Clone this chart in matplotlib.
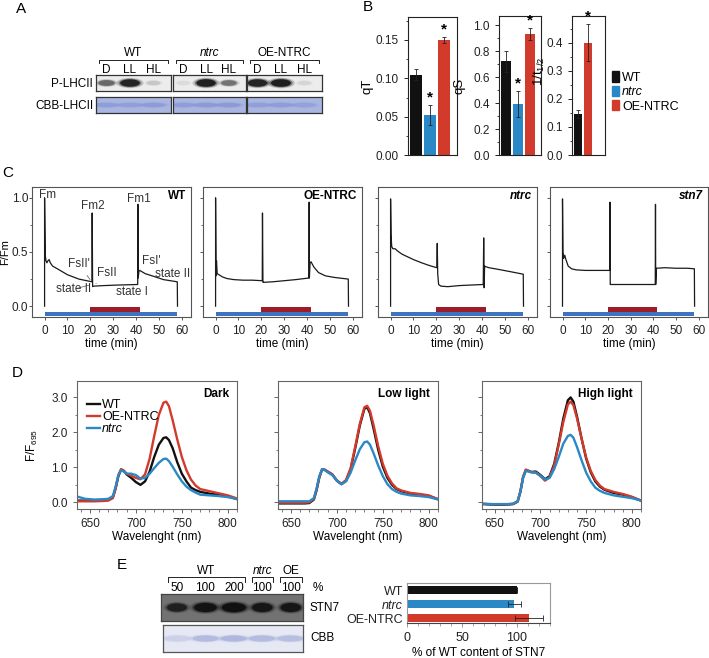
import matplotlib
matplotlib.use("Agg")
import matplotlib.pyplot as plt
from matplotlib.patches import Ellipse, Patch
from matplotlib.ticker import MultipleLocator

plt.rcParams["font.family"] = ["Liberation Sans", "DejaVu Sans"]
plt.rcParams["mathtext.default"] = "regular"
plt.rcParams["font.size"] = 8

BLACK = "#111111"
RED = "#d23a2c"
BLUE = "#2a88c6"
EDGE = "#555555"

# ---- data ----
# A: western blot band intensities (rows: WT, ntrc, OE-NTRC; lanes D, LL, HL)
a_groups = ["WT", "ntrc", "OE-NTRC"]
a_lanes = ["D", "LL", "HL"]
p_lhcii = [[0.5, 0.95, 0.12], [0.05, 1.0, 0.45], [0.95, 1.0, 0.07]]
cbb_lhcii = [[0.5, 0.45, 0.55], [0.5, 0.6, 0.6], [0.45, 0.5, 0.4]]

# B: state transition parameters
b_genotypes = ["WT", "ntrc", "OE-NTRC"]
qt_mean = [0.105, 0.052, 0.150]
qt_err = [0.007, 0.013, 0.004]
qs_mean = [0.72, 0.39, 0.93]
qs_err = [0.08, 0.10, 0.045]
rate_mean = [0.145, 0.40]
rate_err = [0.015, 0.065]

# C: chlorophyll fluorescence traces (time in min, F/Fm)
wt_t = [0, 0, 0.3, 0.6, 1.0, 1.5, 2.0, 2.5, 3.5, 6, 10, 15, 20.7, 20.8, 21.0,
        21.5, 26, 32, 40.7, 40.8, 40.9, 41.3, 42, 44, 47, 52, 58, 58.1]
wt_v = [0, 1.0, 0.47, 0.42, 0.40, 0.42, 0.43, 0.40, 0.37, 0.34, 0.29, 0.25, 0.225,
        0.86, 0.18, 0.185, 0.19, 0.195, 0.20, 0.94, 0.26, 0.33, 0.325, 0.30, 0.28,
        0.245, 0.225, 0]
oe_t = [0, 0, 0.2, 0.4, 0.7, 1.5, 3, 5, 8, 12, 16, 20.4, 20.5, 20.7, 21, 25, 30,
        35, 40.8, 40.9, 41.0, 41.3, 41.7, 43, 45, 48, 52, 58, 58.1]
oe_v = [0, 1.0, 0.28, 0.42, 0.30, 0.29, 0.27, 0.255, 0.245, 0.24, 0.24, 0.235,
        0.86, 0.22, 0.22, 0.225, 0.235, 0.245, 0.26, 0.96, 0.26, 0.40, 0.41, 0.36,
        0.31, 0.28, 0.265, 0.25, 0]
ntrc_t = [0, 0, 0.2, 0.5, 1, 2, 3, 5, 7, 10, 13.6, 17, 20.2, 20.4, 20.6, 21, 22,
          25, 30, 35, 40.5, 40.7, 40.9, 41.1, 41.5, 43, 47, 52, 58, 58.1]
ntrc_v = [0, 0.99, 0.66, 0.55, 0.53, 0.53, 0.51, 0.48, 0.46, 0.43, 0.40, 0.375,
          0.355, 0.58, 0.30, 0.20, 0.185, 0.18, 0.19, 0.195, 0.20, 0.63, 0.17,
          0.37, 0.365, 0.355, 0.34, 0.32, 0.295, 0]
stn7_t = [0, 0, 0.2, 0.5, 1.0, 1.5, 2.5, 4, 6, 10, 15, 20.8, 20.9, 21.0, 21.3,
          25, 30, 35, 40.8, 40.9, 41.0, 41.3, 45, 50, 55, 58, 58.1]
stn7_v = [0, 0.99, 0.50, 0.44, 0.47, 0.43, 0.37, 0.345, 0.335, 0.33, 0.33, 0.33,
          0.96, 0.20, 0.20, 0.20, 0.20, 0.20, 0.20, 0.94, 0.20, 0.35, 0.355, 0.35,
          0.35, 0.345, 0]
c_traces = [("WT", wt_t, wt_v), ("OE-NTRC", oe_t, oe_v),
            ("ntrc", ntrc_t, ntrc_v), ("stn7", stn7_t, stn7_v)]
blue_light = (0, 58)
red_light = (20, 41.5)

# D: 77K fluorescence emission spectra, normalised to 685 nm
wl = [637, 645, 655, 665, 670, 675, 678, 681, 684, 687, 690, 695, 700, 705, 710,
      715, 720, 725, 730, 733, 736, 740, 745, 750, 755, 760, 765, 770, 780, 790,
      800, 809]
dark_wt = [0.05, 0.05, 0.06, 0.06, 0.07, 0.15, 0.40, 0.75, 0.94, 0.90, 0.80, 0.70,
           0.58, 0.50, 0.60, 0.88, 1.30, 1.65, 1.84, 1.86, 1.78, 1.55, 1.15, 0.82,
           0.60, 0.42, 0.35, 0.30, 0.25, 0.22, 0.18, 0.10]
dark_oe = [0.03, 0.03, 0.03, 0.04, 0.05, 0.12, 0.40, 0.78, 0.95, 0.90, 0.82, 0.76,
           0.70, 0.66, 0.80, 1.25, 1.90, 2.50, 2.85, 2.88, 2.75, 2.35, 1.80, 1.30,
           0.92, 0.65, 0.48, 0.38, 0.32, 0.26, 0.20, 0.12]
dark_ntrc = [0.16, 0.10, 0.08, 0.09, 0.10, 0.18, 0.45, 0.78, 0.92, 0.88, 0.82,
             0.82, 0.78, 0.68, 0.70, 0.82, 0.98, 1.13, 1.24, 1.25, 1.18, 1.02, 0.80,
             0.60, 0.45, 0.35, 0.28, 0.22, 0.20, 0.18, 0.15, 0.10]
low_wt = [-0.03, -0.03, -0.03, -0.03, -0.02, 0.08, 0.35, 0.72, 0.94, 0.93, 0.88,
          0.80, 0.62, 0.52, 0.62, 0.95, 1.55, 2.20, 2.68, 2.72, 2.55, 2.10, 1.50,
          1.02, 0.70, 0.50, 0.38, 0.32, 0.25, 0.22, 0.18, 0.10]
low_oe = [-0.01, -0.01, -0.01, -0.01, 0.0, 0.10, 0.38, 0.74, 0.95, 0.93, 0.88,
          0.80, 0.63, 0.53, 0.64, 0.98, 1.60, 2.25, 2.72, 2.76, 2.62, 2.20, 1.60,
          1.10, 0.76, 0.54, 0.40, 0.34, 0.27, 0.24, 0.20, 0.10]
low_ntrc = [0.03, 0.03, 0.03, 0.03, 0.03, 0.12, 0.40, 0.75, 0.95, 0.92, 0.86,
            0.78, 0.62, 0.52, 0.60, 0.85, 1.20, 1.52, 1.72, 1.74, 1.65, 1.40, 1.05,
            0.75, 0.52, 0.38, 0.30, 0.25, 0.20, 0.18, 0.15, 0.09]
high_wt = [-0.05, -0.06, -0.07, -0.06, -0.05, 0.02, 0.30, 0.72, 0.92, 0.90, 0.87,
           0.88, 0.78, 0.66, 0.75, 1.10, 1.70, 2.40, 2.92, 3.00, 2.88, 2.45, 1.82,
           1.25, 0.86, 0.60, 0.45, 0.36, 0.27, 0.22, 0.15, 0.06]
high_oe = [-0.04, -0.05, -0.06, -0.05, -0.04, 0.03, 0.32, 0.74, 0.94, 0.90, 0.86,
           0.85, 0.75, 0.62, 0.72, 1.05, 1.65, 2.30, 2.80, 2.88, 2.78, 2.40, 1.82,
           1.28, 0.90, 0.64, 0.48, 0.38, 0.30, 0.24, 0.16, 0.06]
high_ntrc = [-0.04, -0.05, -0.05, -0.05, -0.04, 0.03, 0.30, 0.70, 0.90, 0.88,
             0.86, 0.85, 0.76, 0.65, 0.70, 0.95, 1.30, 1.68, 1.90, 1.93, 1.85, 1.58,
             1.20, 0.85, 0.60, 0.42, 0.33, 0.27, 0.20, 0.16, 0.12, 0.06]
d_panels = [("Dark", dark_wt, dark_oe, dark_ntrc),
            ("Low light", low_wt, low_oe, low_ntrc),
            ("High light", high_wt, high_oe, high_ntrc)]

# E: STN7 blot and quantification
e_lanes = ["50", "100", "200", "100", "100"]
stn7_band = [0.75, 0.95, 1.0, 0.9, 0.9]
stn7_width = [0.7, 0.8, 0.85, 0.72, 0.72]
e_cbb = [0.2, 0.45, 0.5, 0.45, 0.4]
stn7_pct = [100, 97.5, 111]
stn7_pct_err = [0, 6, 13]

# ---- layout helpers (pixel coords of the 709x658 figure) ----
W, H = 709, 658
fig = plt.figure(figsize=(W / 100, H / 100), dpi=100)


def add_ax(x0, y0, x1, y1):
    return fig.add_axes([x0 / W, 1 - y1 / H, (x1 - x0) / W, (y1 - y0) / H])


def ftext(x, y, s, **kw):
    fig.text(x / W, 1 - y / H, s, va="center", **kw)


def style(ax, color=EDGE, labelsize=8.5):
    for sp in ax.spines.values():
        sp.set_color(color)
        sp.set_linewidth(0.8)
    ax.tick_params(colors=color, labelcolor="#222222", length=3, width=0.7,
                   labelsize=labelsize)
    ax.tick_params(which="minor", length=1.8, width=0.6, colors=color)


def blot_box(ax, bg, edge="#333333"):
    ax.set_facecolor(bg)
    ax.set_xticks([])
    ax.set_yticks([])
    for sp in ax.spines.values():
        sp.set_color(edge)
        sp.set_linewidth(0.9)


def band(ax, x, w, h, color, alpha):
    for k, a in [(1.4, 0.2), (1.18, 0.4), (1.0, 0.9)]:
        ax.add_patch(Ellipse((x, 0), w * k, h * k, color=color,
                             alpha=alpha * a, lw=0))


# ---- panel letters ----
for letter, x, y in [("A", 21, 9), ("B", 368, 7), ("C", 8, 173),
                     ("D", 17, 373), ("E", 122, 565)]:
    ftext(x, y, letter, ha="center", fontsize=11)

# ---- A ----
a_boxes = [(96, 171), (173, 246), (247, 322)]
for gi, (x0, x1) in enumerate(a_boxes):
    ax = add_ax(x0, 75, x1, 91)
    blot_box(ax, "#ececec")
    ax.set_xlim(-0.45, 2.75)
    ax.set_ylim(-1, 1)
    for li, val in enumerate(p_lhcii[gi]):
        band(ax, li, 0.55 + 0.3 * val, 0.5 + 0.45 * val, "#151515", val)
        ax.text(li, 1.33, a_lanes[li], transform=ax.get_xaxis_transform(),
                ha="center", va="center", fontsize=8.5)
    ax.plot([0.04, 0.04, 0.96, 0.96], [1.72, 1.92, 1.92, 1.72],
            transform=ax.transAxes, clip_on=False, color="#222222", lw=0.7)
    ax.text(0.5, 2.4, a_groups[gi], transform=ax.transAxes, ha="center",
            va="center", fontsize=8.5,
            style="italic" if a_groups[gi] == "ntrc" else "normal")
    axc = add_ax(x0, 97, x1, 113)
    blot_box(axc, "#a9b6e2")
    axc.set_xlim(-0.45, 2.75)
    axc.set_ylim(-1, 1)
    for li, val in enumerate(cbb_lhcii[gi]):
        band(axc, li, 1.0, 0.55, "#8090cf", val)
ftext(93, 84, "P-LHCII", ha="right", fontsize=8.5)
ftext(93, 106, "CBB-LHCII", ha="right", fontsize=8.5)

# ---- B ----


def b_bars(ax, means, errs, colors, ylim, major, minor, fmt, stars):
    x = list(range(len(means)))
    ax.bar(x, means, width=0.85, color=colors, yerr=errs,
           error_kw=dict(ecolor="#222222", elinewidth=0.6, capsize=1.5,
                         capthick=0.6))
    ax.set_ylim(*ylim)
    ax.yaxis.set_major_locator(MultipleLocator(major))
    ax.yaxis.set_minor_locator(MultipleLocator(minor))
    ax.yaxis.set_major_formatter(fmt)
    ax.set_xticks([])
    style(ax, "#222222", labelsize=8.5)
    for i in stars:
        ax.text(i, means[i] + errs[i] + ylim[1] * 0.005, "*", ha="center",
                va="bottom", fontsize=11, fontweight="bold")


ax = add_ax(408, 17, 457, 155)
b_bars(ax, qt_mean, qt_err, [BLACK, BLUE, RED], (0, 0.18), 0.05, 0.025,
       "{x:.2f}", [1, 2])
ax.set_xlim(-0.55, 2.95)
ax.set_ylabel("qT", fontsize=9.5)
ax.yaxis.set_label_coords((373 - 408) / 49, 0.5)
ax = add_ax(499, 16, 541, 155)
b_bars(ax, qs_mean, qs_err, [BLACK, BLUE, RED], (0, 1.07), 0.2, 0.1,
       "{x:.1f}", [1, 2])
ax.set_xlim(-0.55, 2.95)
ax.set_ylabel("qS", fontsize=9.5)
ax.yaxis.set_label_coords((465 - 499) / 42, 0.5)
ax = add_ax(572, 16, 605, 155)
b_bars(ax, rate_mean, rate_err, [BLACK, RED], (0, 0.495), 0.1, 0.05,
       "{x:.1f}", [1])
ax.set_xlim(-0.6, 2.7)
ax.set_ylabel("1/t$_{1/2}$", fontsize=9.5)
ax.yaxis.set_label_coords((547 - 572) / 33, 0.6)
handles = [Patch(color=c) for c in [BLACK, BLUE, RED]]
leg = fig.legend(handles, b_genotypes, loc="upper left",
                 bbox_to_anchor=(606 / W, 1 - 65 / H), frameon=False,
                 handlelength=0.55, handleheight=0.9, handletextpad=0.25,
                 labelspacing=0.15, fontsize=9, borderpad=0)
leg.get_texts()[1].set_style("italic")

# ---- C ----
c_boxes = [(32, 191), (203, 362), (378, 537), (550, 708)]
for ci, (name, t, v) in enumerate(c_traces):
    x0, x1 = c_boxes[ci]
    ax = add_ax(x0, 187, x1, 317)
    ax.broken_barh([(blue_light[0], blue_light[1] - blue_light[0])],
                   (-0.092, 0.037), color="#3e74bf", lw=0)
    ax.broken_barh([(red_light[0], red_light[1] - red_light[0])],
                   (-0.055, 0.043), color="#9c1d27", lw=0)
    ax.plot(t, v, color="#1a1a1a", lw=0.9)
    ax.set_xlim(-5.5, 64)
    ax.set_ylim(-0.1, 1.1)
    ax.set_xticks(range(0, 61, 10))
    ax.yaxis.set_major_locator(MultipleLocator(0.5))
    ax.yaxis.set_minor_locator(MultipleLocator(0.25))
    ax.set_xlabel("time (min)", fontsize=8.5, labelpad=1)
    style(ax)
    ax.tick_params(axis="x", length=2)
    ax.tick_params(axis="y", length=2, pad=0.8)
    if ci == 0:
        ax.yaxis.set_major_formatter("{x:.1f}")
        ax.set_ylabel("F/Fm", fontsize=8)
        ax.yaxis.set_label_coords((10 - 32) / 159, 0.5)
    else:
        ax.set_yticklabels([])
    ax.text(0.97, 0.93, name, transform=ax.transAxes, ha="right", va="center",
            fontsize=8.5, fontweight="bold",
            style="italic" if name in ("ntrc", "stn7") else "normal")
    if name == "WT":
        lbl = dict(ha="center", va="center", fontsize=8.5, color="#333333")
        ax.text(1.3, 1.025, "Fm", **lbl)
        ax.text(21, 0.92, "Fm2", **lbl)
        ax.text(41.3, 0.985, "Fm1", **lbl)
        arr = dict(arrowstyle="-", color="#555555", lw=0.5)
        ax.annotate("FsII'", (20.6, 0.225), (15, 0.385), arrowprops=arr, **lbl)
        ax.annotate("FsII", (21.6, 0.19), (27.2, 0.31), arrowprops=arr, **lbl)
        ax.annotate("state II", (20.5, 0.2), (12.5, 0.155), arrowprops=arr, **lbl)
        ax.text(38, 0.13, "state I", **lbl)
        ax.annotate("FsI'", (41.6, 0.33), (46.6, 0.415), arrowprops=arr, **lbl)
        ax.text(56, 0.30, "state II", **lbl)

# ---- D ----
d_boxes = [(77, 237), (278, 438), (482, 641)]
for di, (title, s_wt, s_oe, s_ntrc) in enumerate(d_panels):
    x0, x1 = d_boxes[di]
    ax = add_ax(x0, 381, x1, 509)
    ax.plot(wl, s_wt, color=BLACK, lw=1.7, label="WT")
    ax.plot(wl, s_oe, color=RED, lw=1.7, label="OE-NTRC")
    ax.plot(wl, s_ntrc, color=BLUE, lw=1.7, label="ntrc")
    ax.set_xlim(636, 810)
    ax.set_ylim(-0.19, 3.47)
    ax.set_xticks([650, 700, 750, 800])
    ax.xaxis.set_minor_locator(MultipleLocator(10))
    ax.yaxis.set_major_locator(MultipleLocator(1.0))
    ax.yaxis.set_minor_locator(MultipleLocator(0.5))
    ax.set_xlabel("Wavelenght (nm)", fontsize=8.5, labelpad=1)
    style(ax, "#666666", labelsize=8.5)
    ax.text(0.95, 0.9, title, transform=ax.transAxes, ha="right", va="center",
            fontsize=8.5, fontweight="bold")
    if di == 0:
        ax.yaxis.set_major_formatter("{x:.1f}")
        ax.set_ylabel("F/F$_{695}$", fontsize=8.5)
        ax.yaxis.set_label_coords((40 - 77) / 160, 0.5)
        leg = ax.legend(loc="upper left", bbox_to_anchor=(0.06, 0.86),
                        frameon=False, handlelength=1.1, handletextpad=0.15,
                        labelspacing=0.0, fontsize=9, borderpad=0,
                        borderaxespad=0)
        leg.get_texts()[2].set_style("italic")
    else:
        ax.set_yticklabels([])

# ---- E blot ----
ax = add_ax(161, 594, 303, 621)
blot_box(ax, "#727272", "#444444")
ax.set_xlim(-0.56, 4.43)
ax.set_ylim(-1, 1)
for li, val in enumerate(stn7_band):
    band(ax, li, stn7_width[li], 0.35 + 0.35 * val, "#0c0c0c", val)
    ax.text(li, 1.24, e_lanes[li], transform=ax.get_xaxis_transform(),
            ha="center", va="center", fontsize=8.5)
ax.text(4.95, 1.24, "%", transform=ax.get_xaxis_transform(), ha="center",
        va="center", fontsize=8.5)
for g, (a, b) in [("WT", (-0.31, 2.39)), ("ntrc", (2.63, 3.39)),
                  ("OE", (3.62, 4.4))]:
    ax.plot([a, a, b, b], [1.44, 1.62, 1.62, 1.44],
            transform=ax.get_xaxis_transform(), clip_on=False,
            color="#222222", lw=0.7)
    ax.text((a + b) / 2, 1.86, g, transform=ax.get_xaxis_transform(),
            ha="center", va="center", fontsize=8.5,
            style="italic" if g == "ntrc" else "normal")
axc = add_ax(163, 625, 303, 652)
blot_box(axc, "#e6e9f4", "#555555")
axc.set_xlim(-0.5, 4.45)
axc.set_ylim(-1, 1)
for li, val in enumerate(e_cbb):
    band(axc, li, 0.9, 0.45, "#8c98d0", val)
ftext(310, 608, "STN7", ha="left", fontsize=8.5)
ftext(310, 638, "CBB", ha="left", fontsize=8.5)

# ---- E bars ----
ax = add_ax(407, 583, 550, 623)
ypos = list(range(len(b_genotypes)))
ax.barh(ypos, stn7_pct, height=0.62, color=[BLACK, BLUE, RED],
        xerr=stn7_pct_err,
        error_kw=dict(ecolor="#222222", elinewidth=0.6, capsize=2,
                      capthick=0.6))
ax.set_ylim(2.35, -0.5)
ax.set_xlim(0, 130)
ax.set_yticks(ypos)
ax.set_yticklabels(b_genotypes)
style(ax, "#999999", labelsize=9)
ax.get_yticklabels()[1].set_style("italic")
ax.xaxis.set_major_locator(MultipleLocator(50))
ax.xaxis.set_minor_locator(MultipleLocator(10))
ax.tick_params(axis="y", length=0, pad=3)
ax.spines["bottom"].set_color("#444444")
ax.set_xlabel("% of WT content of STN7", fontsize=8.5, labelpad=2)

fig.savefig("out.png", dpi=100)
